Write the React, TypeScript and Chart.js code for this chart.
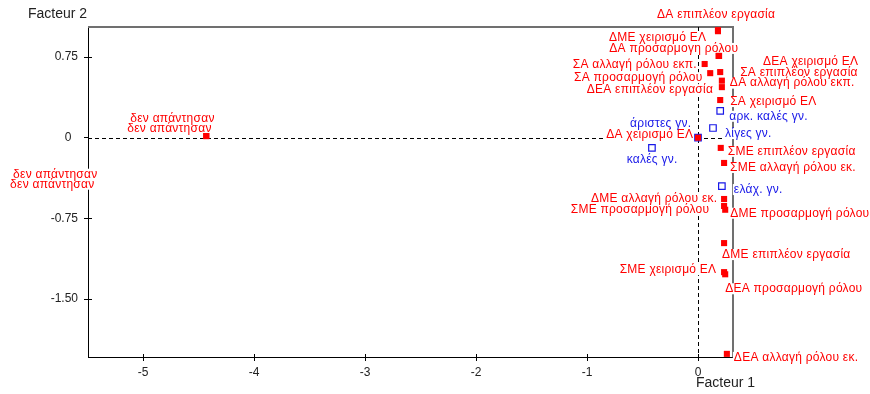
import React, { useEffect, useRef } from "react";
import { Chart, registerables } from "chart.js";

Chart.register(...registerables);

// ---- axis ticks ----
const X_TICKS = [-5, -4, -3, -2, -1, 0];
const X_TICK_LABELS = ["-5", "-4", "-3", "-2", "-1", "0"];
const Y_TICKS = [0.75, 0, -0.75, -1.5];
const Y_TICK_LABELS = ["0.75", "0  ", "-0.75", "-1.50"];
const X_LIMITS = [-5.4955, 0.3153];
const Y_LIMITS = [-2.039, 1.029];

// ---- red categories (active modalities) ----
const RED_NAMES = [
  "ΔΑ επιπλέον εργασία",
  "ΔΜΕ χειρισμό ΕΛ",
  "ΔΑ προσαρμογη ρόλου",
  "ΔΕΑ χειρισμό ΕΛ",
  "ΣΑ αλλαγή ρόλου εκπ.",
  "ΣΑ προσαρμογή ρόλου",
  "ΣΑ επιπλέον εργασία",
  "ΔΑ αλλαγή ρόλου εκπ.",
  "ΔΕΑ επιπλέον εργασία",
  "ΣΑ χειρισμό ΕΛ",
  "ΔΑ χειρισμό ΕΛ",
  "ΣΜΕ επιπλέον εργασία",
  "ΣΜΕ αλλαγή ρόλου εκ.",
  "ΔΜΕ αλλαγή ρόλου εκ.",
  "ΣΜΕ προσαρμογή ρόλου",
  "ΔΜΕ προσαρμογή ρόλου",
  "ΔΜΕ επιπλέον εργασία",
  "ΣΜΕ χειρισμό ΕΛ",
  "ΔΕΑ προσαρμογή ρόλου",
  "ΔΕΑ αλλαγή ρόλου εκ.",
  "δεν απάντησαν",
  "δεν απάντησαν",
];
const RED_X = [
  0.18, 0.18, 0.185, 0.19, 0.06, 0.11, 0.2, 0.215, 0.215, 0.2, 0, 0.205, 0.235,
  0.235, 0.235, 0.245, 0.235, 0.235, 0.245, 0.26, -4.43, -4.43,
];
const RED_Y = [
  1.0, 0.99, 0.76, 0.76, 0.685, 0.6, 0.61, 0.53, 0.47, 0.35, 0, -0.095, -0.235,
  -0.57, -0.635, -0.67, -0.98, -1.25, -1.27, -2.01, 0.015, 0.015,
];

// ---- red categories lying outside the plotted window ----
const OUT_NAMES = ["δεν απάντησαν", "δεν απάντησαν"];
const OUT_X = [-5.9, -5.9];
const OUT_Y = [-0.4, -0.4];

// ---- blue categories (supplementary) ----
const BLUE_NAMES = ["άριστες γν.", "αρκ. καλές γν.", "λίγες γν.", "καλές γν.", "ελάχ. γν."];
const BLUE_X = [0, 0.2, 0.135, -0.415, 0.215];
const BLUE_Y = [0, 0.25, 0.09, -0.095, -0.45];

// ---- label placement (pixel offsets from the point, text alignment) ----
type Place = [number, number, CanvasTextAlign];
const RED_PLACE: Place[] = [
  [-2, -17, "center"],
  [-12, 5, "right"],
  [19.5, -9, "right"],
  [44, 4, "left"],
  [-8, -1, "right"],
  [-8, 3, "right"],
  [20, -1, "left"],
  [8, 1, "left"],
  [-9, 1, "right"],
  [10, 0, "left"],
  [-5, -4, "right"],
  [7, 2, "left"],
  [6, 3, "left"],
  [-7, -2, "right"],
  [-15, 2, "right"],
  [5, 2, "left"],
  [-2, 10, "left"],
  [-8, -4, "right"],
  [0, 13, "left"],
  [7, 2, "left"],
  [-76, -19, "left"],
  [-79, -9, "left"],
];
const OUT_PLACE: Place[] = [
  [-30, -8, "left"],
  [-33, 2, "left"],
];
const BLUE_PLACE: Place[] = [
  [-7, -15, "right"],
  [9, 4, "left"],
  [12, 4, "left"],
  [0, 10, "center"],
  [12, 2, "left"],
];
const LABEL_DY = 1.5;
const LETTER_SPACING = 0.25;

const FONT = "'Liberation Sans', Arial, sans-serif";
const RED = "#ff0000";
const BLUE = "#1818e8";

const pts = (xs: number[], ys: number[]) => xs.map((x, i) => ({ x, y: ys[i] }));

const decorPlugin = {
  id: "decor",
  beforeDatasetsDraw(chart: any) {
    const { ctx, chartArea: a, scales } = chart;
    const xs = scales.x;
    const ys = scales.y;
    ctx.save();
    // top / right frame
    ctx.strokeStyle = "#707070";
    ctx.lineWidth = 2;
    ctx.beginPath();
    ctx.moveTo(a.left, a.top);
    ctx.lineTo(a.right, a.top);
    ctx.lineTo(a.right, a.bottom);
    ctx.stroke();
    // inner tick stubs
    ctx.strokeStyle = "#000";
    ctx.lineWidth = 1;
    ctx.beginPath();
    X_TICKS.forEach((v) => {
      const px = Math.round(xs.getPixelForValue(v)) + 0.5;
      ctx.moveTo(px, a.bottom);
      ctx.lineTo(px, a.bottom - 3);
    });
    Y_TICKS.forEach((v) => {
      const py = Math.round(ys.getPixelForValue(v)) + 0.5;
      ctx.moveTo(a.left, py);
      ctx.lineTo(a.left + 4, py);
    });
    ctx.stroke();
    // dashed zero lines
    ctx.setLineDash([4, 3]);
    const x0 = Math.round(xs.getPixelForValue(0)) + 0.5;
    const y0 = Math.round(ys.getPixelForValue(0)) + 0.5;
    ctx.beginPath();
    ctx.moveTo(a.left, y0);
    ctx.lineTo(a.right, y0);
    ctx.moveTo(x0, a.top);
    ctx.lineTo(x0, a.bottom);
    ctx.stroke();
    ctx.setLineDash([]);

    // point labels
    ctx.font = `12px ${FONT}`;
    (ctx as any).letterSpacing = `${LETTER_SPACING}px`;
    ctx.textBaseline = "middle";
    const items: { x: number; y: number; w: number; text: string; color: string; align: CanvasTextAlign }[] = [];
    const groups: [string[], number[], number[], Place[], string][] = [
      [RED_NAMES, RED_X, RED_Y, RED_PLACE, RED],
      [OUT_NAMES, OUT_X, OUT_Y, OUT_PLACE, RED],
      [BLUE_NAMES, BLUE_X, BLUE_Y, BLUE_PLACE, BLUE],
    ];
    groups.forEach(([names, gx, gy, place, color]) => {
      names.forEach((text, i) => {
        const align = place[i][2];
        const shift = align === "right" ? LETTER_SPACING : align === "center" ? LETTER_SPACING / 2 : 0;
        const px = xs.getPixelForValue(gx[i]) + place[i][0] + shift;
        const py = ys.getPixelForValue(gy[i]) + place[i][1] + LABEL_DY;
        const w = ctx.measureText(text).width;
        items.push({ x: px, y: py, w, text, color, align });
      });
    });
    ctx.fillStyle = "#fff";
    items.forEach((it) => {
      const left = it.align === "left" ? it.x : it.align === "right" ? it.x - it.w : it.x - it.w / 2;
      ctx.fillRect(left - 1, it.y - 5.5, it.w + 2, 11);
    });
    items.forEach((it) => {
      ctx.fillStyle = it.color;
      ctx.textAlign = it.align;
      ctx.fillText(it.text, it.x, it.y);
    });
    (ctx as any).letterSpacing = "0px";
    ctx.restore();
  },
  afterDraw(chart: any) {
    const { ctx } = chart;
    ctx.save();
    ctx.font = `14px ${FONT}`;
    ctx.fillStyle = "#222";
    ctx.textBaseline = "middle";
    ctx.textAlign = "left";
    ctx.fillText("Facteur 2", 28, 14);
    ctx.fillText("Facteur 1", 696, 383);
    ctx.restore();
  },
};

export default function App() {
  const ref = useRef<HTMLCanvasElement | null>(null);

  useEffect(() => {
    if (!ref.current) return;
    const chart = new Chart(ref.current, {
      type: "scatter",
      data: {
        datasets: [
          {
            label: "out",
            data: pts(OUT_X, OUT_Y),
            pointRadius: 0,
            pointHoverRadius: 0,
          },
          {
            label: "red",
            data: pts(RED_X, RED_Y),
            pointStyle: "rect",
            pointRadius: 4.3,
            backgroundColor: RED,
            borderColor: RED,
            borderWidth: 0,
            clip: false,
          },
          {
            label: "blue",
            data: pts(BLUE_X, BLUE_Y),
            pointStyle: "rect",
            pointRadius: 4.6,
            backgroundColor: "rgba(0,0,0,0)",
            borderColor: BLUE,
            borderWidth: 1.2,
            clip: false,
          },
        ],
      },
      options: {
        responsive: false,
        animation: false,
        events: [],
        layout: { padding: { top: 27, right: 137, left: 0, bottom: 0 } },
        plugins: {
          legend: { display: false },
          tooltip: { enabled: false },
          title: { display: false },
        },
        scales: {
          x: {
            type: "linear",
            position: "bottom",
            min: X_LIMITS[0],
            max: X_LIMITS[1],
            afterBuildTicks: (s: any) => {
              s.ticks = X_TICKS.map((v) => ({ value: v }));
            },
            afterFit: (s: any) => {
              s.height = 37;
            },
            ticks: {
              autoSkip: false,
              maxRotation: 0,
              padding: 4,
              color: "#222",
              font: { family: FONT, size: 12 },
              callback: (_v: any, i: number) => X_TICK_LABELS[i],
            },
            grid: { display: true, drawOnChartArea: false, drawTicks: true, tickLength: 4, color: "#000" },
            border: { display: true, color: "#000", width: 1 },
          },
          y: {
            type: "linear",
            position: "left",
            min: Y_LIMITS[0],
            max: Y_LIMITS[1],
            afterBuildTicks: (s: any) => {
              s.ticks = Y_TICKS.map((v) => ({ value: v }));
            },
            afterFit: (s: any) => {
              s.width = 88;
            },
            ticks: {
              autoSkip: false,
              padding: 6,
              color: "#222",
              font: { family: FONT, size: 12 },
              callback: (_v: any, i: number) => Y_TICK_LABELS[i],
            },
            grid: { display: true, drawOnChartArea: false, drawTicks: true, tickLength: 4, color: "#000" },
            border: { display: true, color: "#000", width: 1 },
          },
        },
      },
      plugins: [decorPlugin],
    });
    return () => chart.destroy();
  }, []);

  return (
    <div style={{ position: "absolute", left: 0, top: 0, width: 870, height: 394, background: "#fff" }}>
      <canvas ref={ref} width={870} height={394} style={{ display: "block" }} />
    </div>
  );
}
